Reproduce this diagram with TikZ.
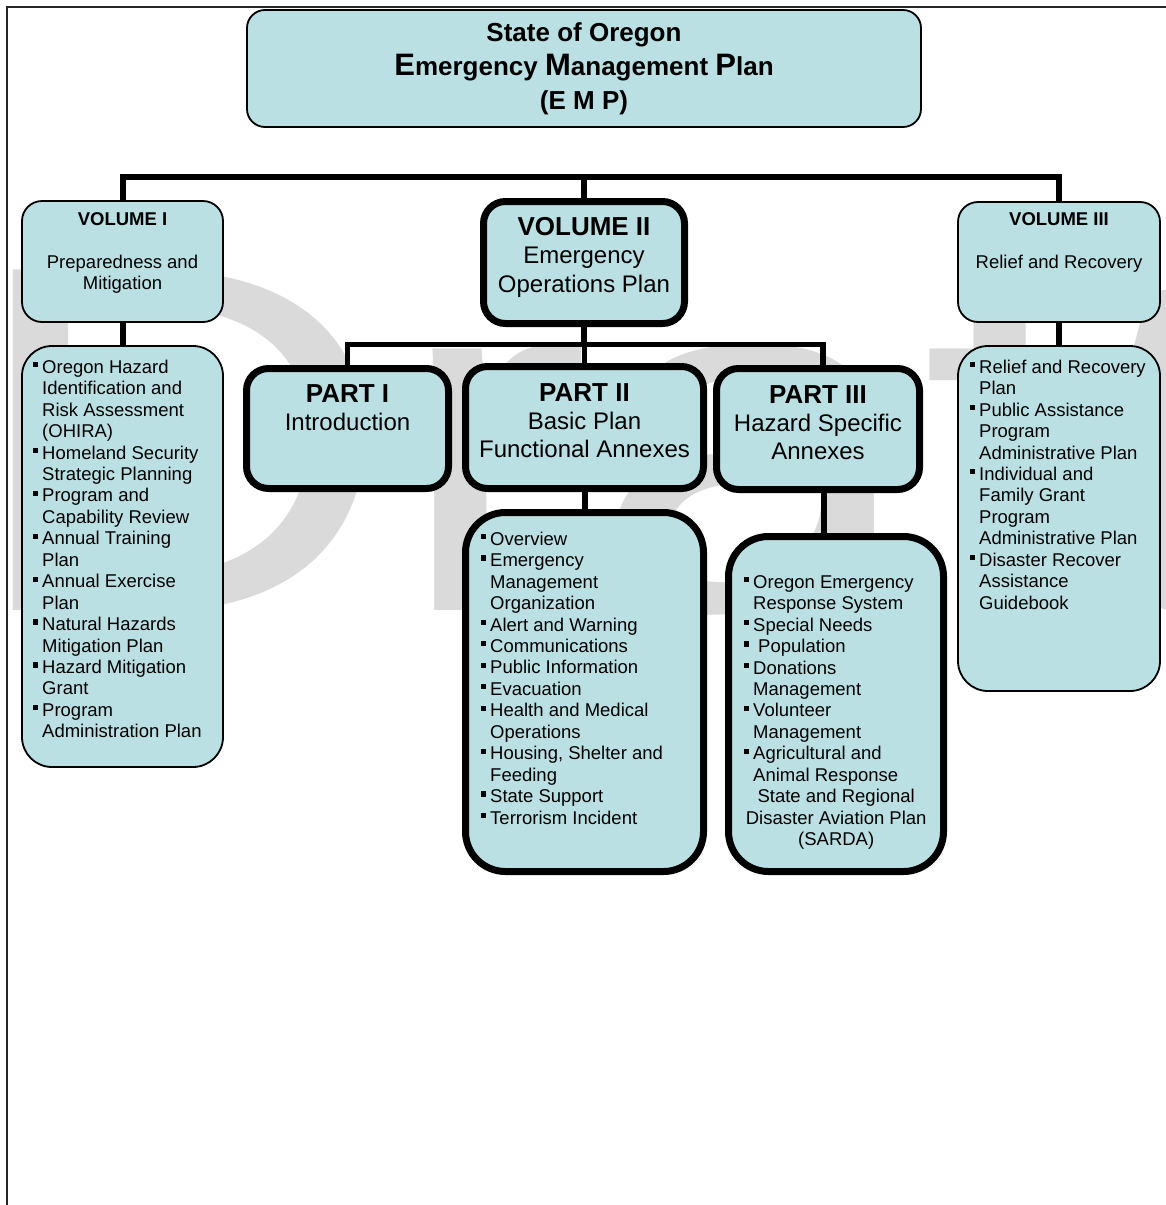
\documentclass[tikz,border=0pt]{standalone}
\usepackage{fontspec}
\setmainfont{Liberation Sans}
\usetikzlibrary{backgrounds}
\definecolor{boxfill}{RGB}{187,224,227}
\definecolor{wmgray}{RGB}{218,218,218}
\newcommand\bul{\makebox[9pt][l]{\rule[6pt]{5.2pt}{5.2pt}}}
\newcommand\ind{\hspace*{9pt}}
\newcommand\fst[1]{\rule{0pt}{#1}}
\newcommand\bigc[1]{{\fontsize{31}{33.5}\selectfont #1}}
\begin{document}
\begin{tikzpicture}[x=1pt,y=-1pt,
  boxbase/.style={draw=black, fill=boxfill, inner sep=0pt, outer sep=0pt},
  thinbox/.style={boxbase, line width=1.8pt},
  thickbox/.style={boxbase, line width=7pt},
  conn/.style={draw=black, line width=6pt},
  txt/.style={inner sep=0pt, font=\fontsize{18.5}{21.45}\selectfont},
  hdr/.style={inner sep=0pt, align=center, font=\fontsize{24}{28.5}\selectfont},
  hdrb/.style={inner sep=0pt, align=center, font=\fontsize{24}{28}\selectfont}]
\useasboundingbox (0,0) rectangle (1166,1205);
% boxes (shapes)
\node[thinbox, rounded corners=18pt, minimum width=674pt, minimum height=117pt] (title) at (584,68.5) {};
\node[thinbox, rounded corners=20pt, minimum width=201pt, minimum height=121pt] (v1) at (122.5,261.5) {};
\node[thinbox, rounded corners=30pt, minimum width=201pt, minimum height=421pt] (v1list) at (122.5,556.5) {};
\node[thickbox, rounded corners=22pt, minimum width=201pt, minimum height=122pt] (v2) at (584,262.5) {};
\node[thinbox, rounded corners=20pt, minimum width=202pt, minimum height=120pt] (v3) at (1059,262) {};
\node[thinbox, rounded corners=30pt, minimum width=202pt, minimum height=345pt] (v3list) at (1059,518.5) {};
\node[thickbox, rounded corners=22pt, minimum width=202pt, minimum height=120pt] (p1) at (347.5,428.5) {};
\node[thickbox, rounded corners=22pt, minimum width=238pt, minimum height=122pt] (p2) at (584.5,427.5) {};
\node[thickbox, rounded corners=22pt, minimum width=203pt, minimum height=121pt] (p3) at (818,429) {};
\node[thickbox, rounded corners=40pt, minimum width=238pt, minimum height=359pt] (p2list) at (584.5,692) {};
\node[thickbox, rounded corners=40pt, minimum width=215pt, minimum height=335pt] (p3list) at (836,704) {};
\coordinate (topbar) at (0,177);
\coordinate (subbar) at (0,344.5);
% background: page, watermark, frame, connectors
\begin{scope}[on background layer]
\fill[white] (0,0) rectangle (1166,1205);
\node[anchor=base west, inner sep=0pt, xscale=1.2, text=wmgray,
      font=\fontsize{495}{495}\selectfont] (wm) at (-36,610) {Draft};
\draw[line width=2.2pt, draw=black!85] (7,1205) -- (7,7) -- (1166,7);
\draw[conn] (v1.north) -- (v1.north |- topbar) -- (v3.north |- topbar) -- (v3.north);
\draw[conn] (v2.north) -- (v2.north |- topbar);
\draw[conn] (v1.south) -- (v1list.north);
\draw[conn] (v3.south) -- (v3list.north);
\draw[conn, line width=5.5pt] (p1.north) -- (p1.north |- subbar) -- ([xshift=5pt]p3.north |- subbar) -- ([xshift=5pt]p3.north);
\draw[conn, line width=5.5pt] (v2.south) -- (v2.south |- subbar);
\draw[conn, line width=5.5pt] (p2.north) -- (p2.north |- subbar);
\draw[conn] (p2.south) -- (p2list.north);
\draw[conn] ([xshift=6pt]p3.south) -- ([xshift=6pt]p3.south |- p3list.north);
\end{scope}
% texts
\node[inner sep=0pt, anchor=north, align=center, font=\bfseries\fontsize{26}{34}\selectfont] (titletxt) at (584,21)
  {\fst{20pt}State of Oregon\\ \bigc{E}mergency \bigc{M}anagement \bigc{P}lan\\ (E M P)};
\node[txt, anchor=north, align=center] (v1txt) at (122.5,210)
  {\fst{15pt}\textbf{VOLUME I}\\ \mbox{}\\ Preparedness and\\ Mitigation};
\node[txt, anchor=north, align=center] (v3txt) at (1059,210)
  {\fst{15pt}\textbf{VOLUME III}\\ \mbox{}\\ Relief and Recovery};
\node[hdr, anchor=north] (v2txt) at (584,215)
  {\fst{20pt}{\bfseries\fontsize{26}{28.5}\selectfont VOLUME II}\\ Emergency\\ Operations Plan};
\node[hdrb, anchor=north] (p1txt) at (347.5,382)
  {\fst{20pt}{\bfseries\fontsize{26}{28}\selectfont PART I}\\ Introduction};
\node[hdrb, anchor=north] (p2txt) at (584.5,381)
  {\fst{20pt}{\bfseries\fontsize{26}{28}\selectfont PART II}\\ Basic Plan\\ Functional Annexes};
\node[hdrb, anchor=north] (p3txt) at (818,383)
  {\fst{20pt}{\bfseries\fontsize{26}{28}\selectfont PART III}\\ Hazard Specific\\ Annexes};
\node[txt, anchor=north west, align=left] (v1items) at (33,358)
  {\fst{15pt}\bul Oregon Hazard\\ \ind Identification and\\ \ind Risk Assessment\\ \ind (OHIRA)\\
   \bul Homeland Security\\ \ind Strategic Planning\\ \bul Program and\\ \ind Capability Review\\
   \bul Annual Training\\ \ind Plan\\ \bul Annual Exercise\\ \ind Plan\\ \bul Natural Hazards\\
   \ind Mitigation Plan\\ \bul Hazard Mitigation\\ \ind Grant\\ \bul Program\\ \ind Administration Plan};
\node[txt, anchor=north west, align=left] (v3items) at (970,358)
  {\fst{15pt}\bul Relief and Recovery\\ \ind Plan\\ \bul Public Assistance\\ \ind Program\\
   \ind Administrative Plan\\ \bul Individual and\\ \ind Family Grant\\ \ind Program\\
   \ind Administrative Plan\\ \bul Disaster Recover\\ \ind Assistance\\ \ind Guidebook};
\node[txt, anchor=north west, align=left] (p2items) at (481,530)
  {\fst{15pt}\bul Overview\\ \bul Emergency\\ \ind Management\\ \ind Organization\\
   \bul Alert and Warning\\ \bul Communications\\ \bul Public Information\\ \bul Evacuation\\
   \bul Health and Medical\\ \ind Operations\\ \bul Housing, Shelter and\\ \ind Feeding\\
   \bul State Support\\ \bul Terrorism Incident};
\node[txt, anchor=north west, align=left] (p3items) at (744,573)
  {\fst{15pt}\bul Oregon Emergency\\ \ind Response System\\ \bul Special Needs\\
   \bul\hspace{5pt}Population\\ \bul Donations\\ \ind Management\\ \bul Volunteer\\ \ind Management\\
   \bul Agricultural and\\ \ind Animal Response\\ \makebox[184pt][c]{State and Regional}\\
   \makebox[184pt][c]{Disaster Aviation Plan}\\ \makebox[184pt][c]{(SARDA)}};
\end{tikzpicture}
\end{document}
